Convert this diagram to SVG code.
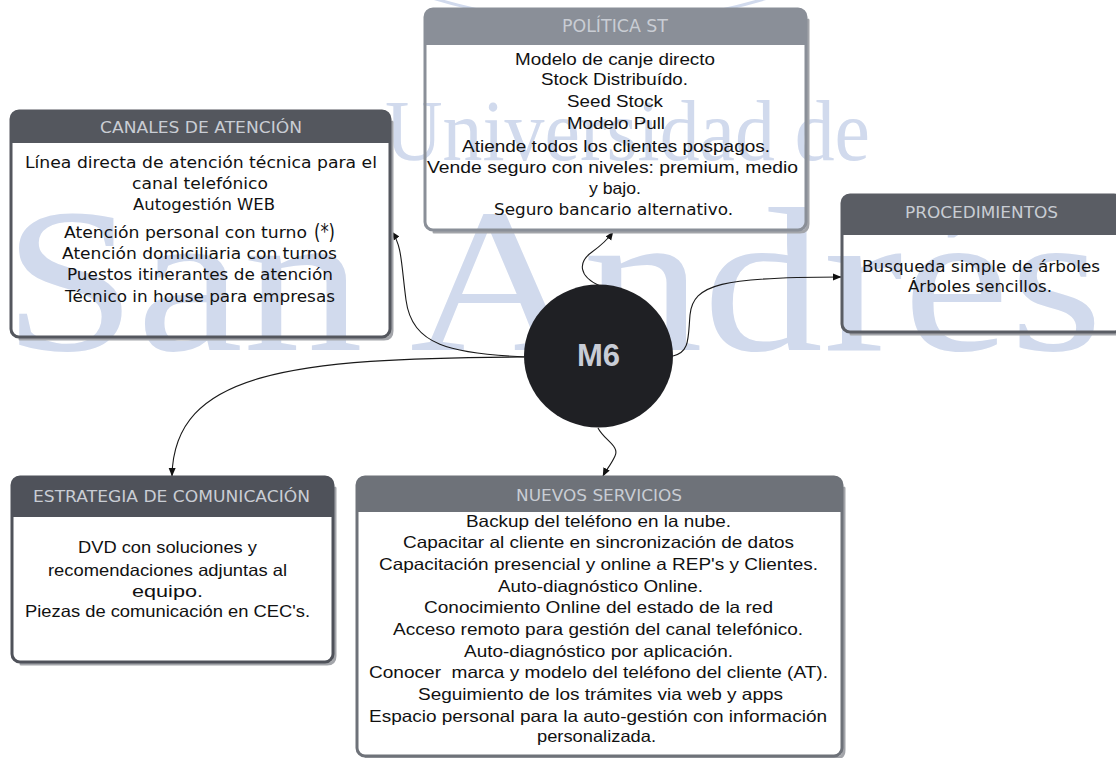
<svg xmlns="http://www.w3.org/2000/svg" width="1116" height="758" viewBox="0 0 1116 758">
  <defs>
    <style>
      .wm { fill: #d1daed; font-family: "Liberation Serif", serif; }
      .box { fill: none; stroke-width: 3; }
      .shadow { fill: none; stroke: #a3a5aa; stroke-width: 3; stroke-linecap: round; }
      .title { fill: #c9cdd4; font-family: "DejaVu Sans", sans-serif; font-size: 16px; text-anchor: middle; }
      .hb { fill: #111111; font-family: "DejaVu Sans", sans-serif; font-size: 15px; text-anchor: middle; }
      .ab { fill: #111111; font-family: "Liberation Sans", Arial, sans-serif; font-size: 16.5px; text-anchor: middle; }
      .link { fill: none; stroke: #1a1a1a; stroke-width: 1.1; marker-end: url(#arrow); }
    </style>
    <marker id="arrow" markerWidth="9" markerHeight="8" refX="8" refY="4" orient="auto" markerUnits="userSpaceOnUse">
      <path d="M0,0.5 L8.5,4 L0,7.5 z" fill="#111111"/>
    </marker>
  </defs>

  <rect width="1116" height="758" fill="#ffffff"/>

  <!-- background watermark -->
  <g id="watermark">
    <circle cx="600" cy="-550" r="573" fill="none" stroke="#d1daed" stroke-width="3"/>
    <text class="wm" x="385" y="160" font-size="86" textLength="485" lengthAdjust="spacingAndGlyphs">Universidad de</text>
    <text class="wm" x="3" y="350" font-size="206" textLength="1100" lengthAdjust="spacingAndGlyphs">San Andrés</text>
  </g>

  <!-- connectors -->
  <g id="connectors">
    <path class="link" d="M527,357 C450,354 412,345 406,300 C401,262 402,246 392,232"/>
    <path class="link" d="M524,357 C290,358 174,372 172,476"/>
    <path class="link" d="M600,286 C578,276 578,262 592,252 C603,244 608,239 613,232"/>
    <path class="link" d="M673,356 C690,352 688,338 690,315 C693,284 722,277 841,277"/>
    <path class="link" d="M598,428 C604,440 620,446 615,456 C611,465 606,470 603,476"/>
  </g>

  <!-- central node -->
  <g id="m6">
    <ellipse cx="598.5" cy="356" rx="74.5" ry="71.5" fill="#1f2024"/>
    <text x="598.5" y="366" fill="#c8ccd6" font-family="Liberation Sans, Arial, sans-serif" font-weight="bold" font-size="31" text-anchor="middle">M6</text>
  </g>

  <!-- CANALES DE ATENCIÓN -->
  <g id="canales">
    <path class="shadow" d="M392,122 V331 Q392,339 384,339 H20"/>
    <rect class="box" x="11" y="111" width="379" height="226" rx="8" stroke="#54575e"/>
    <path d="M11,143 V119 Q11,111 19,111 H382 Q390,111 390,119 V143 Z" fill="#54575e"/>
    <text class="title" x="201" y="133" textLength="202" lengthAdjust="spacingAndGlyphs">CANALES DE ATENCIÓN</text>
    <text class="hb" x="201" y="168" textLength="352" lengthAdjust="spacingAndGlyphs">Línea directa de atención técnica para el</text>
    <text class="hb" x="200" y="189" textLength="136" lengthAdjust="spacingAndGlyphs">canal telefónico</text>
    <text class="hb" x="204" y="210" textLength="142" lengthAdjust="spacingAndGlyphs">Autogestión WEB</text>
    <text class="hb" x="64" y="238" style="text-anchor:start" textLength="243" lengthAdjust="spacingAndGlyphs">Atención personal con turno</text>
    <text class="hb" x="314" y="239" style="text-anchor:start;font-size:21px" textLength="21" lengthAdjust="spacingAndGlyphs">(*)</text>
    <text class="hb" x="199.5" y="259" textLength="275" lengthAdjust="spacingAndGlyphs">Atención domiciliaria con turnos</text>
    <text class="hb" x="200" y="280" textLength="266" lengthAdjust="spacingAndGlyphs">Puestos itinerantes de atención</text>
    <text class="hb" x="200" y="302" textLength="270" lengthAdjust="spacingAndGlyphs">Técnico in house para empresas</text>
  </g>

  <!-- POLÍTICA ST -->
  <g id="politica">
    <path class="shadow" d="M808,20 V224 Q808,232 800,232 H434"/>
    <rect class="box" x="425" y="9" width="381" height="221" rx="8" stroke="#8a8f98"/>
    <path d="M425,45 V17 Q425,9 433,9 H798 Q806,9 806,17 V45 Z" fill="#8a8f98"/>
    <text class="title" x="615" y="32" style="font-size:17px" textLength="106" lengthAdjust="spacingAndGlyphs">POLÍTICA ST</text>
    <text class="ab" x="615" y="65" textLength="200" lengthAdjust="spacingAndGlyphs">Modelo de canje directo</text>
    <text class="ab" x="614.5" y="85" textLength="147" lengthAdjust="spacingAndGlyphs">Stock Distribuído.</text>
    <text class="ab" x="615" y="107" textLength="96" lengthAdjust="spacingAndGlyphs">Seed Stock</text>
    <text class="ab" x="616" y="129" textLength="98" lengthAdjust="spacingAndGlyphs">Modelo Pull</text>
    <text class="ab" x="616" y="152" textLength="308" lengthAdjust="spacingAndGlyphs">Atiende todos los clientes pospagos.</text>
    <text class="ab" x="612.5" y="173" textLength="371" lengthAdjust="spacingAndGlyphs">Vende seguro con niveles: premium, medio</text>
    <text class="ab" x="615" y="194" textLength="52" lengthAdjust="spacingAndGlyphs">y bajo.</text>
    <text class="hb" x="613.5" y="215" textLength="239" lengthAdjust="spacingAndGlyphs">Seguro bancario alternativo.</text>
  </g>

  <!-- PROCEDIMIENTOS -->
  <g id="procedimientos">
    <path class="shadow" d="M1124,206 V326 Q1124,334 1116,334 H851"/>
    <rect class="box" x="842" y="195" width="280" height="137" rx="8" stroke="#5a5d64"/>
    <path d="M842,235 V203 Q842,195 850,195 H1114 Q1122,195 1122,203 V235 Z" fill="#5a5d64"/>
    <text class="title" x="981.5" y="218" textLength="153" lengthAdjust="spacingAndGlyphs">PROCEDIMIENTOS</text>
    <text class="hb" x="981" y="272" textLength="238" lengthAdjust="spacingAndGlyphs">Busqueda simple de árboles</text>
    <text class="hb" x="980" y="292" textLength="144" lengthAdjust="spacingAndGlyphs">Árboles sencillos.</text>
  </g>

  <!-- ESTRATEGIA DE COMUNICACIÓN -->
  <g id="estrategia">
    <path class="shadow" d="M335,488 V656 Q335,664 327,664 H21"/>
    <rect class="box" x="12" y="477" width="321" height="185" rx="8" stroke="#4f525a"/>
    <path d="M12,517 V485 Q12,477 20,477 H325 Q333,477 333,485 V517 Z" fill="#4f525a"/>
    <text class="title" x="171.5" y="502" textLength="277" lengthAdjust="spacingAndGlyphs">ESTRATEGIA DE COMUNICACIÓN</text>
    <text class="ab" x="167.5" y="553" textLength="179" lengthAdjust="spacingAndGlyphs">DVD con soluciones y</text>
    <text class="ab" x="167.5" y="576" textLength="239" lengthAdjust="spacingAndGlyphs">recomendaciones adjuntas al</text>
    <text class="ab" x="167.5" y="597" textLength="71" lengthAdjust="spacingAndGlyphs">equipo.</text>
    <text class="ab" x="167.5" y="617" textLength="285" lengthAdjust="spacingAndGlyphs">Piezas de comunicación en CEC's.</text>
  </g>

  <!-- NUEVOS SERVICIOS -->
  <g id="nuevos">
    <path class="shadow" d="M844,488 V750 Q844,758 836,758 H366"/>
    <rect class="box" x="357" y="477" width="485" height="279" rx="8" stroke="#6e7279"/>
    <path d="M357,512 V485 Q357,477 365,477 H834 Q842,477 842,485 V512 Z" fill="#6e7279"/>
    <text class="title" x="599" y="501" textLength="166" lengthAdjust="spacingAndGlyphs">NUEVOS SERVICIOS</text>
    <text class="ab" x="598.5" y="527" textLength="265" lengthAdjust="spacingAndGlyphs">Backup del teléfono en la nube.</text>
    <text class="ab" x="598.5" y="548" textLength="391" lengthAdjust="spacingAndGlyphs">Capacitar al cliente en sincronización de datos</text>
    <text class="ab" x="598.5" y="570" textLength="439" lengthAdjust="spacingAndGlyphs">Capacitación presencial y online a REP's y Clientes.</text>
    <text class="ab" x="600.5" y="592" textLength="205" lengthAdjust="spacingAndGlyphs">Auto-diagnóstico Online.</text>
    <text class="ab" x="598.5" y="613" textLength="349" lengthAdjust="spacingAndGlyphs">Conocimiento Online del estado de la red</text>
    <text class="ab" x="598" y="635" textLength="410" lengthAdjust="spacingAndGlyphs">Acceso remoto para gestión del canal telefónico.</text>
    <text class="ab" x="598.5" y="657" textLength="269" lengthAdjust="spacingAndGlyphs">Auto-diagnóstico por aplicación.</text>
    <text class="ab" x="598.5" y="678" textLength="459" lengthAdjust="spacingAndGlyphs" xml:space="preserve">Conocer  marca y modelo del teléfono del cliente (AT).</text>
    <text class="ab" x="600.5" y="700" textLength="365" lengthAdjust="spacingAndGlyphs">Seguimiento de los trámites via web y apps</text>
    <text class="ab" x="598" y="722" textLength="458" lengthAdjust="spacingAndGlyphs">Espacio personal para la auto-gestión con información</text>
    <text class="ab" x="596.5" y="742" textLength="119" lengthAdjust="spacingAndGlyphs">personalizada.</text>
  </g>
</svg>
